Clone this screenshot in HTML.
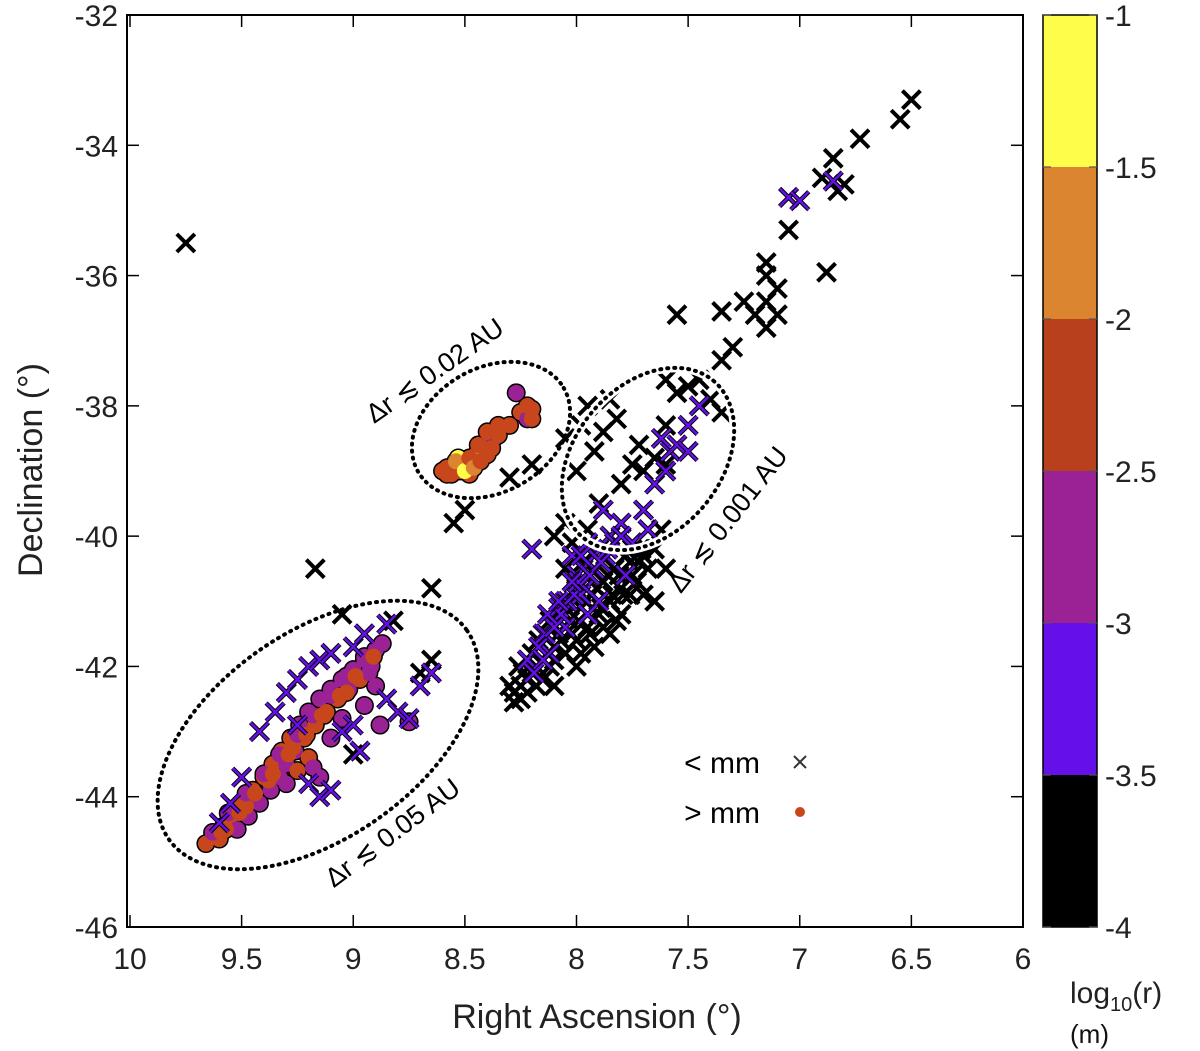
<!DOCTYPE html>
<html><head><meta charset="utf-8"><style>
html,body{margin:0;padding:0;background:#fff;}
svg{display:block;font-family:"Liberation Sans","DejaVu Sans",sans-serif;}
</style></head><body>
<svg id="chart" width="1200" height="1051" viewBox="0 0 1200 1051">
<g id="marks"></g>
<g id="overlay">
  <ellipse cx="318" cy="735" rx="182" ry="103" transform="rotate(-35 318 735)" fill="none" stroke="#000" stroke-width="4" stroke-dasharray="1 6" stroke-linecap="round"/>
  <ellipse cx="491" cy="430" rx="84" ry="62" transform="rotate(-30 491 430)" fill="none" stroke="#000" stroke-width="4" stroke-dasharray="1 6" stroke-linecap="round"/>
  <ellipse cx="648" cy="459" rx="102" ry="73" transform="rotate(-50 648 459)" fill="none" stroke="#fff" stroke-width="9"/>
  <ellipse cx="648" cy="459" rx="102" ry="73" transform="rotate(-50 648 459)" fill="none" stroke="#000" stroke-width="4" stroke-dasharray="1 6" stroke-linecap="round"/>
  <text x="440" y="378" font-size="27" text-anchor="middle" transform="rotate(-35 440 378)">Δr ≲ 0.02 AU</text>
  <text x="735" y="525" font-size="27" text-anchor="middle" transform="rotate(-52 735 525)">Δr ≲ 0.001 AU</text>
  <text x="398" y="840" font-size="27" text-anchor="middle" transform="rotate(-37 398 840)">Δr ≲ 0.05 AU</text>
</g>
<g id="legend">
  <text x="760" y="773" font-size="30" text-anchor="end">&lt; mm</text>
  <path d="M794 756 L806 768 M806 756 L794 768" stroke="#333" stroke-width="2"/>
  <text x="760" y="823" font-size="30" text-anchor="end">&gt; mm</text>
  <circle cx="800" cy="812" r="5" fill="#c8461c"/>
</g>
<g id="axes"></g>
<g id="cbar"></g>
</svg>
<script>
// ---- data ----
const crossRA = [9.75,6.5,6.55,6.73,6.85,6.8,6.83,6.9,7.05,6.88,7.15,7.15,7.1,7.15,7.1,7.25,7.2,7.15,7.35,7.55,7.3,7.35,7.6,7.4,7.35,9.17,9.05,8.65,8.65,8.7,8.55,8.5,8.3,8.2,8.05,7.95,7.85,7.75,7.8,7.7,7.65,7.6,7.55,7.6,7.9,7.85,7.75,7.7,7.6,7.65,8.05,8.1,8.05,7.98,7.92,8.0,7.88,7.82,7.72,
8.28,8.25,8.22,8.2,8.18,8.15,8.12,8.1,8.08,8.05,8.03,8.0,7.98,7.95,7.93,7.9,7.88,7.85,7.83,7.8,7.78,7.75,7.72,7.7,7.68,8.17,8.12,8.0,7.97,7.9,8.02,7.95,8.1,8.0,7.92,7.85,7.82,8.3,8.26,7.65,7.62,9.0,8.82,7.5,7.45,
8.25,8.22,8.18,8.15,8.13,8.1,8.07,8.05,8.02,7.99,7.96,7.94,7.91,7.89,7.86,7.84,7.81,7.79,7.76,7.73,7.71,8.2,8.24,8.28,7.98,7.88,7.8,7.76,
8.2,8.05,8.0,7.96,7.92,7.9,7.87,7.85,7.8,7.78,7.75,7.7,7.68,7.65,7.6,7.58,7.55,7.5,7.5,7.62,7.45,7.05,7.0,6.85,8.05,8.12,7.95,8.02,7.88,7.95,8.15,8.08,7.98,
8.22,8.17,8.14,8.1,8.07,8.04,8.01,7.99,7.97,7.94,7.92,7.89,7.86,7.83,7.8,8.13,8.08,8.02,7.98,8.15,8.19,
9.42,9.35,9.3,9.25,9.2,9.15,9.1,9.0,8.95,8.85,9.5,9.55,9.6,9.2,9.15,9.1,8.97,8.85,8.8,8.75,9.0,9.05,8.65,8.7,9.25];
const crossDec = [-35.5,-33.3,-33.6,-33.9,-34.2,-34.6,-34.7,-34.5,-35.3,-35.95,-35.8,-36.0,-36.2,-36.4,-36.6,-36.4,-36.6,-36.8,-36.55,-36.6,-37.1,-37.3,-37.6,-37.9,-38.1,-40.5,-41.2,-40.8,-41.9,-42.1,-39.8,-39.6,-39.1,-38.9,-38.5,-38.0,-37.9,-38.9,-39.2,-39.0,-38.8,-38.3,-37.8,-38.9,-39.5,-40.0,-40.2,-40.3,-40.5,-41.0,-39.8,-40.0,-40.5,-38.3,-38.7,-39.0,-38.4,-38.2,-38.6,
-42.55,-42.3,-42.4,-42.1,-42.3,-41.9,-42.0,-41.7,-41.5,-41.8,-41.3,-41.6,-41.1,-41.4,-40.9,-41.2,-40.7,-41.0,-40.5,-40.8,-40.3,-40.6,-40.4,-40.9,-40.5,-41.6,-41.3,-40.8,-40.4,-40.2,-40.1,-39.9,-42.3,-42.0,-41.7,-41.5,-41.3,-42.3,-42.0,-40.2,-39.9,-43.35,-41.3,-37.7,-37.6,
-42.5,-42.2,-42.0,-42.2,-41.8,-41.9,-41.6,-41.2,-41.5,-41.3,-41.0,-41.5,-40.8,-41.1,-40.6,-40.9,-40.6,-40.9,-40.4,-40.7,-40.2,-41.8,-42.1,-42.4,-41.8,-41.4,-41.2,-40.9,
-40.2,-41.0,-40.6,-40.8,-40.5,-41.0,-40.3,-40.0,-39.8,-40.6,-40.1,-39.6,-39.9,-39.2,-39.0,-38.7,-38.6,-38.7,-38.3,-38.5,-38.0,-34.8,-34.85,-34.55,-41.4,-41.8,-41.2,-40.3,-39.6,-40.1,-41.5,-41.1,-40.9,
-41.9,-41.7,-41.5,-41.4,-41.2,-41.0,-40.9,-40.7,-40.5,-40.6,-40.3,-40.4,-40.2,-40.1,-40.0,-41.2,-41.0,-40.7,-40.3,-41.9,-42.1,
-43.0,-42.7,-42.4,-42.2,-42.0,-41.9,-41.8,-41.7,-41.5,-41.35,-43.7,-44.1,-44.4,-43.8,-44.0,-43.9,-43.3,-42.5,-42.7,-42.8,-42.9,-43.0,-42.1,-42.3,-42.9];
const crossLogR = [].concat(
  Array(59).fill(-3.8), Array(45).fill(-3.8), Array(28).fill(-3.8),
  Array(33).fill(-3.2), Array(21).fill(-3.2), Array(25).fill(-3.2));

const dotRA = [9.66,9.62,9.58,9.6,9.55,9.52,9.5,9.47,9.45,9.42,9.4,9.37,9.36,9.33,9.32,9.3,9.28,9.26,9.24,9.22,9.2,9.17,9.15,9.12,9.1,9.07,9.05,9.02,9.0,8.97,8.95,8.92,8.9,8.87,9.3,9.25,9.2,9.1,9.05,8.95,8.9,9.18,9.15,8.88,8.75,9.57,9.48,9.38,9.27,9.13,9.03,8.93,
9.63,9.59,9.56,9.51,9.48,9.44,9.40,9.36,9.33,9.29,9.25,9.21,9.18,9.14,9.10,9.06,9.03,8.99,8.95,8.91,
8.58,8.55,8.52,8.5,8.47,8.45,8.42,8.4,8.37,8.35,8.3,8.25,8.2,8.22,8.27,8.6,8.53,8.44,8.48,
8.58,8.56,8.54,8.5,8.48,8.46,8.43,8.4,8.38,8.44,8.4,8.35,8.2,8.22];
const dotDec = [-44.72,-44.6,-44.45,-44.65,-44.3,-44.5,-44.1,-44.3,-43.9,-44.1,-43.7,-43.9,-43.5,-43.7,-43.3,-43.5,-43.1,-43.3,-42.9,-43.1,-42.7,-42.9,-42.5,-42.7,-42.35,-42.5,-42.2,-42.35,-42.05,-42.2,-41.9,-42.0,-41.75,-41.65,-43.8,-43.6,-43.4,-43.1,-42.8,-42.6,-42.3,-43.55,-43.7,-42.9,-42.85,-44.5,-44.15,-43.75,-43.25,-42.75,-42.4,-42.1,
-44.55,-44.55,-44.25,-44.25,-43.95,-43.95,-43.65,-43.65,-43.35,-43.35,-43.05,-43.05,-42.75,-42.75,-42.45,-42.45,-42.15,-42.15,-41.85,-41.85,
-39.05,-38.95,-39.0,-38.85,-38.9,-38.75,-38.7,-38.6,-38.5,-38.45,-38.3,-38.1,-38.05,-38.2,-37.8,-39.0,-38.8,-38.85,-39.05,
-38.95,-39.05,-38.85,-39.0,-38.8,-38.95,-38.85,-38.75,-38.65,-38.6,-38.4,-38.3,-38.2,-38.0];
const dotLogR = [-2.2,-2.2,-2.7,-2.2,-2.2,-2.7,-2.2,-2.7,-2.2,-2.7,-2.2,-2.7,-2.2,-2.7,-2.2,-2.7,-2.2,-2.7,-2.7,-2.2,-2.7,-2.2,-2.7,-2.2,-2.7,-2.2,-2.7,-2.7,-2.7,-2.2,-2.7,-2.7,-2.7,-2.7,-2.7,-2.2,-2.2,-2.7,-2.7,-2.7,-2.7,-2.7,-2.7,-2.7,-2.7,-2.2,-2.2,-2.2,-2.2,-2.2,-2.2,-2.7,
-2.7,-2.2,-2.7,-2.2,-2.7,-2.2,-2.7,-2.2,-2.7,-2.2,-2.7,-2.2,-2.7,-2.2,-2.7,-2.2,-2.7,-2.2,-2.7,-2.2,
-2.2,-1.3,-2.2,-1.8,-1.3,-2.2,-1.8,-2.2,-2.7,-2.2,-2.2,-2.2,-2.2,-2.7,-2.7,-2.2,-1.3,-1.8,-2.2,
-2.2,-2.2,-1.8,-1.3,-2.2,-1.8,-2.2,-2.2,-2.2,-2.2,-2.2,-2.2,-2.2,-2.2];

const xTicks = [10,9.5,9,8.5,8,7.5,7,6.5,6];
const xTickLabels = ["10","9.5","9","8.5","8","7.5","7","6.5","6"];
const yTicks = [-32,-34,-36,-38,-40,-42,-44,-46];
const cbTicks = [-1,-1.5,-2,-2.5,-3,-3.5,-4];
const cbColors = ["#000000","#6510e8","#9a2294","#c8461c","#dc8530","#fefe4a"];

// ---- scales ----
const X0=130,X1=1023,Y0=15,Y1=927;
const sx = v => X0 + (10 - v)/4*(X1-X0);
const sy = v => Y0 + (-32 - v)/14*(Y1-Y0);
function colorOf(l){ const i=Math.min(5,Math.max(0,Math.floor((l+4)/0.5))); return cbColors[i]; }
const NS="http://www.w3.org/2000/svg";
function mk(tag,attrs,parent){const e=document.createElementNS(NS,tag);for(const k in attrs)e.setAttribute(k,attrs[k]);parent.appendChild(e);return e;}

const marks=document.getElementById('marks');
const dg=mk('g',{},marks);


for(let i=0;i<dotRA.length;i++){
  const c=mk('circle',{cx:sx(dotRA[i]),cy:sy(dotDec[i]),r:9.5,fill:'#000'},dg);
  
  
}
for(let i=0;i<dotRA.length;i++){
  const c=mk('circle',{cx:sx(dotRA[i]),cy:sy(dotDec[i]),r:8,fill:colorOf(dotLogR[i])},dg);
  
  
}
const cg=mk('g',{},marks);


for(let i=0;i<crossRA.length;i++){
  const x=sx(crossRA[i]),y=sy(crossDec[i]),s=9;
  const d=`M${x-s} ${y-s}L${x+s} ${y+s}M${x+s} ${y-s}L${x-s} ${y+s}`;
  const dark=crossLogR[i]<-3.5;
  if(!dark){
    const o=mk('path',{d:d,stroke:'#000','stroke-width':4.5},cg);
    
    
  }
  const p=mk('path',{d:d,stroke:colorOf(crossLogR[i]),'stroke-width':dark?4:2.5},cg);
  
  
}

// axes
const ax=document.getElementById('axes');
const fr=mk('rect',{x:X0-3,y:Y0,width:X1-X0+3,height:Y1-Y0,fill:'none',stroke:'#000','stroke-width':2},ax);


xTicks.forEach((v,i)=>{
  const x=sx(v);
  mk('line',{x1:x,x2:x,y1:Y1,y2:Y1-12,stroke:'#000','stroke-width':1.5},ax);
  mk('line',{x1:x,x2:x,y1:Y0,y2:Y0+12,stroke:'#000','stroke-width':1.5},ax);
  const t=mk('text',{x:x,y:Y1+42,'font-size':30,'text-anchor':'middle',fill:'#222'},ax);
  t.textContent=xTickLabels[i];
  
  
});
yTicks.forEach(v=>{
  const y=sy(v);
  mk('line',{x1:X0-3,x2:X0+9,y1:y,y2:y,stroke:'#000','stroke-width':1.5},ax);
  mk('line',{x1:X1,x2:X1-12,y1:y,y2:y,stroke:'#000','stroke-width':1.5},ax);
  const t=mk('text',{x:X0-12,y:y+11,'font-size':30,'text-anchor':'end',fill:'#222'},ax);
  t.textContent=String(v);
  
  
});
const xt=mk('text',{x:597,y:1028,'font-size':34,'text-anchor':'middle',fill:'#222'},ax);
xt.textContent='Right Ascension (°)';


const yt=mk('text',{x:42,y:470,'font-size':34,'text-anchor':'middle',fill:'#222',transform:'rotate(-90 42 470)'},ax);
yt.textContent='Declination (°)';



// colorbar
const cb=document.getElementById('cbar');
const CX=1043,CW=54;
const cy=v=>Y0+(-1-v)/3*(Y1-Y0);
const cbFill=["#000000","#6510e8","#9a2294","#b8401c","#dc8530","#fefe4a"];
for(let i=0;i<6;i++){
  const lo=-4+i*0.5,hi=lo+0.5;
  const r=mk('rect',{x:CX,y:cy(hi),width:CW,height:cy(lo)-cy(hi),fill:cbFill[i]},cb);
  
  
}
mk('rect',{x:CX,y:Y0,width:CW,height:Y1-Y0,fill:'none',stroke:'#000','stroke-width':1.5},cb);
cbTicks.forEach(v=>{
  const y=cy(v);
  mk('line',{x1:CX,x2:CX+8,y1:y,y2:y,stroke:'#555','stroke-width':1.2},cb);
  mk('line',{x1:CX+CW,x2:CX+CW-8,y1:y,y2:y,stroke:'#555','stroke-width':1.2},cb);
  const t=mk('text',{x:CX+CW+8,y:y+11,'font-size':30,fill:'#222'},cb);
  t.textContent=String(v);
  
  
});
const cl=mk('text',{x:1070,y:1003,'font-size':30,fill:'#222'},cb);
cl.innerHTML='log<tspan font-size="20" dy="8">10</tspan><tspan dy="-8">(r)</tspan>';


const cu=mk('text',{x:1070,y:1043,'font-size':26,fill:'#111'},cb);
cu.textContent='(m)';


</script>
</body></html>
